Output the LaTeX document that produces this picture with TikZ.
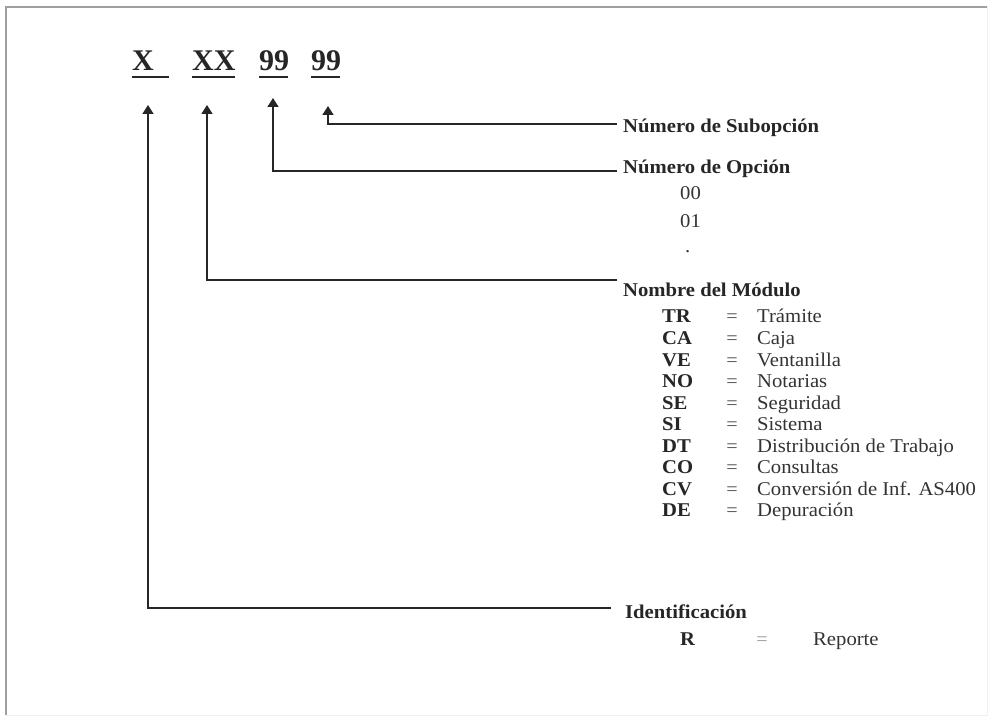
\documentclass[tikz,border=0pt]{standalone}
\usepackage{fontspec}
\setmainfont{Liberation Serif}
\newfontfamily\bodyfont{Liberation Serif}[FakeStretch=1.06]
\usetikzlibrary{arrows.meta}
\begin{document}
\begin{tikzpicture}[x=1pt,y=-1pt,
  hdr/.style={font=\fontsize{30}{32}\selectfont\bfseries, anchor=base west, inner sep=0pt, text=black!85},
  ttl/.style={font=\bodyfont\fontsize{19.5}{20}\selectfont\bfseries, anchor=base west, inner sep=0pt, text=black!85},
  txt/.style={font=\bodyfont\fontsize{19.5}{20}\selectfont, anchor=base west, inner sep=0pt, text=black!80},
  eqs/.style={font=\bodyfont\fontsize{19}{20}\selectfont, anchor=base, inner sep=0pt, text=black!70},
  arr/.style={draw=black!85, line width=1.6pt, -{Triangle[width=11pt,length=9pt]}},
  uline/.style={draw=black!85, line width=1.8pt}]
\useasboundingbox (0,0) rectangle (988,719);
% frame
\draw[gray!75, line width=2pt] (6,715) -- (6,7) -- (987,7);
\draw[gray!12, line width=1pt] (987,7) -- (987,715) -- (6,715);
% header code
\node[hdr] (hx)  at (132,71) {X};
\node[hdr] (hxx) at (192,71) {XX};
\node[hdr] (h9a) at (259,71) {99};
\node[hdr] (h9b) at (311,71) {99};
\draw[uline] (132,77) -- (169,77);
\draw[uline] (192,77) -- (235,77);
\draw[uline] (259,77) -- (288,77);
\draw[uline] (311,77) -- (340,77);
% arrow tips and line ends
\coordinate (t1) at (148,105);
\coordinate (t2) at (207,105);
\coordinate (t3) at (273,98);
\coordinate (t4) at (328,106);
\coordinate (e4) at (617,124);
\coordinate (e3) at (617,171);
\coordinate (e2) at (617,280);
\coordinate (e1) at (611,608);
% labels
\node[ttl] (lsub) at (623,133) {Número de Subopción};
\node[ttl] (lop)  at (623,174) {Número de Opción};
\node[txt] (o00)  at (680,200) {00};
\node[txt] (o01)  at (680,228) {01};
\node[txt] (odot) at (685,253) {.};
\node[ttl] (lmod) at (623,297) {Nombre del Módulo};
\foreach \i/\c/\v in {0/TR/Trámite,1/CA/Caja,2/VE/Ventanilla,3/NO/Notarias,4/SE/Seguridad,5/SI/Sistema,6/DT/Distribución de Trabajo,7/CO/Consultas,8/CV/Conversión de Inf. AS400,9/DE/Depuración}{
  \node[ttl] (c\i) at (662,323+21.55*\i) {\c};
  \node[eqs] (q\i) at (732,323+21.55*\i) {=};
  \node[txt] (v\i) at (757,323+21.55*\i) {\v};
}
\node[ttl] (lid) at (625,618) {Identificación};
\node[ttl] (rc)  at (680,645) {R};
\node[eqs, text=black!40] (rq) at (762,645) {=};
\node[txt] (rv)  at (813,645) {Reporte};
% connectors
\draw[arr] (e4) -| (t4);
\draw[arr] (e3) -| (t3);
\draw[arr] (e2) -| (t2);
\draw[arr] (e1) -| (t1);
\end{tikzpicture}
\end{document}
